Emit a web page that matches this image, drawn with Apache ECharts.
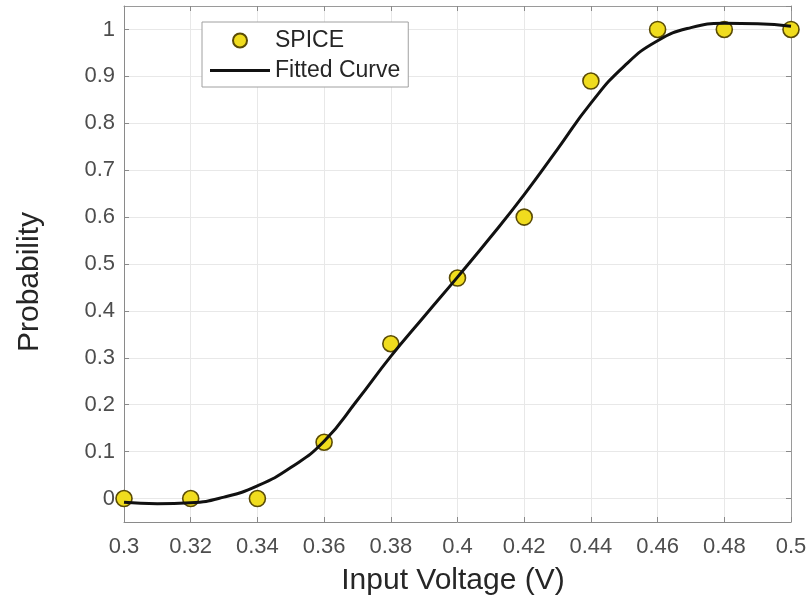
<!DOCTYPE html>
<html>
<head>
<meta charset="utf-8">
<script src="https://cdn.jsdelivr.net/npm/echarts@6/dist/echarts.min.js"></script>
<style>
html,body{margin:0;padding:0;background:#fff;}
#chart{width:812px;height:603px;}
</style>
</head>
<body>
<div id="chart"></div>
<script>
// SPICE simulated points
const spiceVoltage = [0.30, 0.32, 0.34, 0.36, 0.38, 0.40, 0.42, 0.44, 0.46, 0.48, 0.50];
const spiceProb    = [0.00, 0.00, 0.00, 0.12, 0.33, 0.47, 0.60, 0.89, 1.00, 1.00, 1.00];
// Fitted curve
const fitVoltage = [0.30, 0.31, 0.32, 0.33, 0.34, 0.35, 0.36, 0.37, 0.38, 0.39, 0.40,
                    0.41, 0.42, 0.43, 0.44, 0.45, 0.46, 0.47, 0.48, 0.49, 0.50];
const fitProb    = [-0.008, -0.011, -0.009, 0.003, 0.027, 0.066, 0.122, 0.210, 0.303, 0.388, 0.472,
                    0.558, 0.648, 0.745, 0.843, 0.922, 0.976, 1.004, 1.013, 1.012, 1.007];
const seriesNames = ['SPICE', 'Fitted Curve'];
const xAxisTitle = 'Input Voltage (V)';
const yAxisTitle = 'Probability';

const FONT = 'Liberation Sans, Arial, sans-serif';
const chart = echarts.init(document.getElementById('chart'), null, {renderer: 'canvas'});

const baseAxisLine = {show: true, onZero: false, lineStyle: {color: '#8a8a8a', width: 1}};
const sideAxisLine = {show: true, onZero: false, lineStyle: {color: '#9a9a9a', width: 1}};
const tickStyle = {show: true, inside: true, length: 5, lineStyle: {color: '#8a8a8a', width: 1}};

chart.setOption({
  animation: false,
  backgroundColor: '#ffffff',
  grid: {left: 124, right: 21, top: 6, bottom: 81, containLabel: false},
  legend: {
    orient: 'vertical',
    left: 202, top: 22,
    padding: [7, 8, 5, 8],
    itemWidth: 60, itemHeight: 14, itemGap: 7,
    borderColor: '#a0a0a0', borderWidth: 1,
    backgroundColor: '#ffffff',
    textStyle: {fontFamily: FONT, fontSize: 23, color: '#262626'},
    data: [
      {name: seriesNames[0]},
      {name: seriesNames[1], icon: 'path://M0,0 L60,0 L60,3 L0,3 Z', itemStyle: {color: '#111111'}}
    ]
  },
  xAxis: [{
    type: 'value', min: 0.3, max: 0.5, interval: 0.02,
    position: 'bottom',
    name: xAxisTitle, nameLocation: 'middle', nameGap: 44,
    nameTextStyle: {fontFamily: FONT, fontSize: 30, color: '#262626', padding: [0, 9, 0, 0]},
    axisLine: baseAxisLine, axisTick: tickStyle,
    axisLabel: {fontFamily: FONT, fontSize: 22, color: '#4d4d4d', margin: 14},
    splitLine: {show: true, lineStyle: {color: '#e8e8e8', width: 1}}
  }, {
    type: 'value', min: 0.3, max: 0.5, interval: 0.02,
    position: 'top',
    axisLine: sideAxisLine, axisTick: tickStyle,
    axisLabel: {show: false}, splitLine: {show: false}
  }],
  yAxis: [{
    type: 'value', min: -0.05, max: 1.05, splitNumber: 11,
    position: 'left',
    name: yAxisTitle, nameLocation: 'middle', nameGap: 79, nameRotate: 90,
    nameTextStyle: {fontFamily: FONT, fontSize: 30, color: '#262626', padding: [0, 36, 0, 0]},
    axisLine: baseAxisLine, axisTick: tickStyle,
    axisLabel: {fontFamily: FONT, fontSize: 22, color: '#4d4d4d', margin: 9,
                showMinLabel: false, showMaxLabel: false},
    splitLine: {show: true, lineStyle: {color: '#e8e8e8', width: 1}}
  }, {
    type: 'value', min: -0.05, max: 1.05, splitNumber: 11,
    position: 'right',
    axisLine: sideAxisLine, axisTick: tickStyle,
    axisLabel: {show: false}, splitLine: {show: false}
  }],
  series: [{
    name: seriesNames[0],
    type: 'scatter',
    xAxisIndex: 0, yAxisIndex: 0,
    symbol: 'circle', symbolSize: 16,
    itemStyle: {color: '#f0dc1e', borderColor: '#5a4b05', borderWidth: 1.6, opacity: 1},
    z: 2,
    data: spiceVoltage.map((v, i) => [v, spiceProb[i]])
  }, {
    name: seriesNames[1],
    type: 'line',
    xAxisIndex: 0, yAxisIndex: 0,
    smooth: 0.5, showSymbol: false, symbol: 'none',
    lineStyle: {color: '#111111', width: 3},
    itemStyle: {color: '#111111'},
    z: 3,
    data: fitVoltage.map((v, i) => [v, fitProb[i]])
  }]
});
</script>
</body>
</html>
